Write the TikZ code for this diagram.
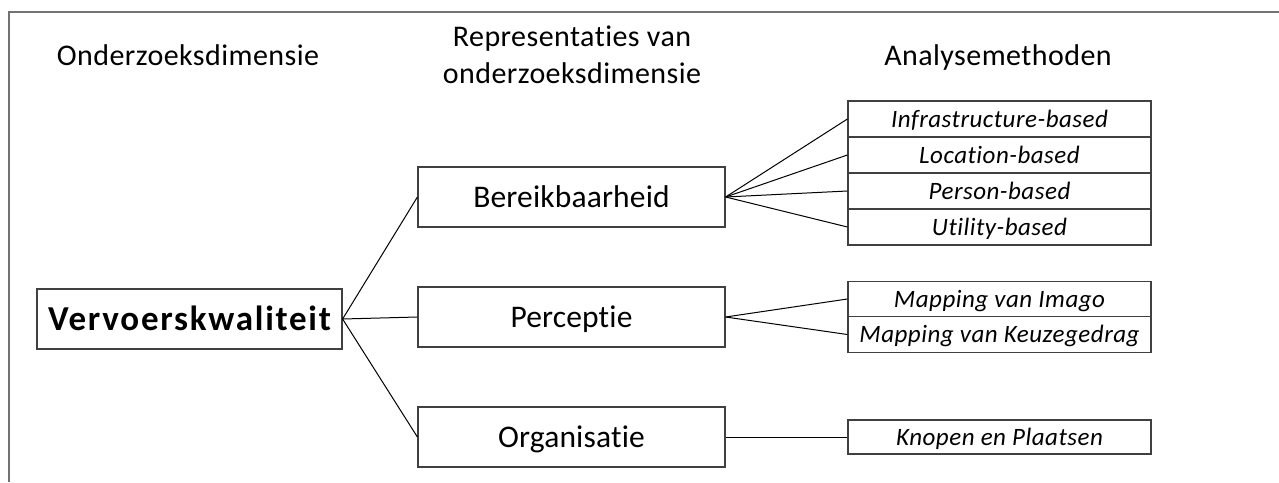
\documentclass[tikz,border=0pt]{standalone}
\usepackage{fontspec}
\setmainfont{Carlito}
\newfontfamily\hdrfont[LetterSpace=1.5,Ligatures=NoCommon]{Carlito}
\newfontfamily\boldfont[LetterSpace=5,Ligatures=NoCommon,BoldFont={* Bold}]{Carlito}
\newfontfamily\itfont[LetterSpace=2,Ligatures=NoCommon,ItalicFont={* Italic}]{Carlito}
\newfontfamily\repfont[LetterSpace=0.5,Ligatures=NoCommon]{Carlito}
\begin{document}
\begin{tikzpicture}[x=1pt,y=-1pt,
  frame/.style={draw=black!55,line width=1.6pt},
  hdr/.style={font=\hdrfont\fontsize{30}{37}\selectfont,align=center,inner sep=0pt,anchor=base},
  mainbox/.style={draw=black!75,line width=1.2pt,rectangle,inner sep=0pt,minimum width=305pt,minimum height=60pt,font=\boldfont\fontsize{35}{40}\selectfont\bfseries,text height=23pt,text depth=0pt},
  repbox/.style={draw=black!75,line width=1.2pt,rectangle,inner sep=0pt,minimum width=307pt,minimum height=60pt,font=\repfont\fontsize{31.5}{36}\selectfont,text height=20pt,text depth=0pt},
  mbox/.style={draw=black!75,line width=1.2pt,rectangle,inner sep=0pt,minimum width=303pt,minimum height=36pt,font=\itfont\fontsize{25}{28}\selectfont\itshape,text height=16pt,text depth=0pt},
  conn/.style={draw=black,line width=1pt}]
\useasboundingbox (0,0) rectangle (1279,482);
\draw[frame] (9,482) -- (9,12) -- (1279,12);
% headers
\node[hdr] (h1) at (188,65) {Onderzoeksdimensie};
\node[hdr] (h2) at (572,83) {Representaties van\\onderzoeksdimensie};
\node[hdr] (h3) at (998,65) {Analysemethoden};
% main
\node[mainbox] (vk) at (189.5,319) {Vervoerskwaliteit};
\node[repbox] (br) at (571.5,197) {Bereikbaarheid};
\node[repbox] (pc) at (571.5,317) {Perceptie};
\node[repbox] (og) at (571.5,437) {Organisatie};
% methods
\node[mbox] (m1) at (999.5,119) {Infrastructure-based};
\node[mbox] (m2) at (999.5,155) {Location-based};
\node[mbox] (m3) at (999.5,191) {Person-based};
\node[mbox] (m4) at (999.5,227) {Utility-based};
\node[mbox,minimum height=35.5pt] (m5) at (999.5,299) {Mapping van Imago};
\node[mbox,minimum height=35.5pt] (m6) at (999.5,334.5) {Mapping van Keuzegedrag};
\node[mbox,minimum height=34pt] (m7) at (999.5,437) {Knopen en Plaatsen};
% connectors
\draw[conn] (vk.east) -- (br.west);
\draw[conn] (vk.east) -- (pc.west);
\draw[conn] (vk.east) -- (og.west);
\foreach \m in {m1,m2,m3,m4} \draw[conn] (br.east) -- (\m.west);
\foreach \m in {m5,m6} \draw[conn] (pc.east) -- (\m.west);
\draw[conn] (og.east) -- (m7.west);
\end{tikzpicture}
\end{document}
